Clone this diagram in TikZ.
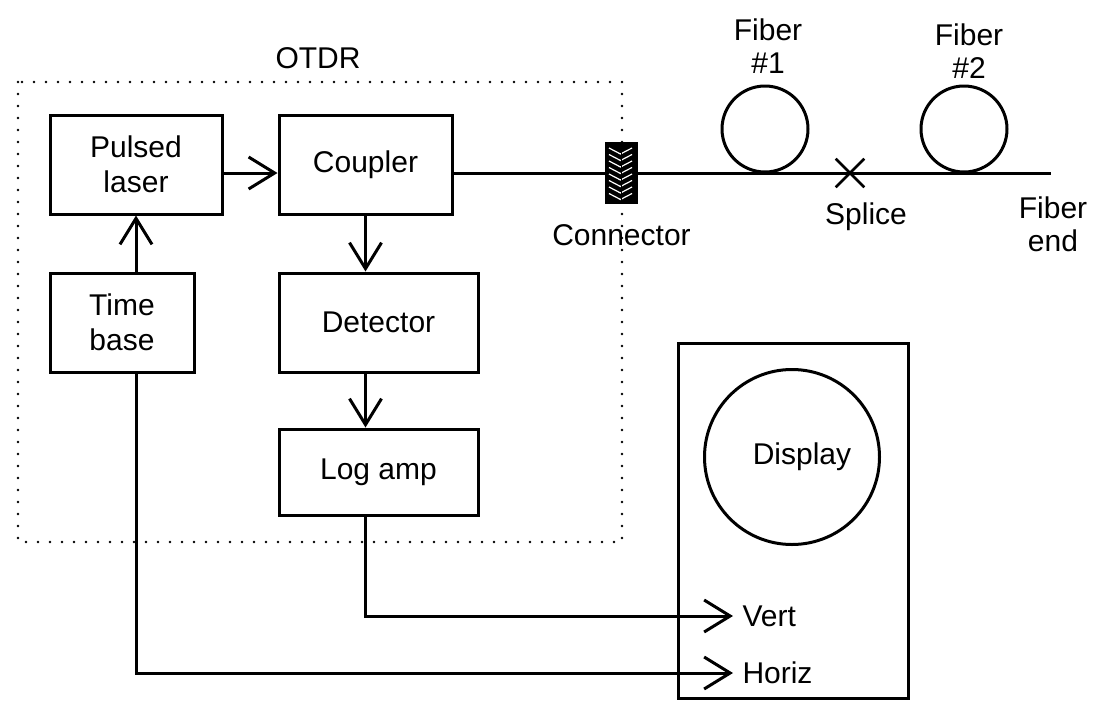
\documentclass[tikz,border=0pt]{standalone}
\usepackage{fontspec}
\setmainfont{Liberation Sans}
\usetikzlibrary{arrows.meta,positioning,shapes.misc,calc}

\begin{document}
\begin{tikzpicture}[
			x=1pt,y=-1pt,
			>={Straight Barb[length=26pt,width=32pt,line width=3pt]},
			line width=3pt,
			blk/.style={
				draw,
				line width=3pt,
				inner sep=0pt,
				minimum height=99pt,
				align=center,
				font=\fontsize{30}{35}\selectfont
			},
			lbl/.style={
				inner sep=0pt,
				align=center,
				font=\fontsize{30}{33}\selectfont
			},
			coil/.style={
				draw,
				circle,
				line width=3pt,
				minimum size=86pt,
				inner sep=0pt
			}
			]
			\useasboundingbox (0,0) rectangle (1101,702);
			% OTDR enclosure
			\draw[line width=2.6pt,line cap=round,dash pattern=on 0pt off 12pt]
				(18,82) rectangle (622,542);
			\node[lbl] (otdr) at (318,58) {OTDR};
			% blocks
			\node[blk,minimum width=172pt] (laser) at (136,164.5) {Pulsed\\laser};
			\node[blk,minimum width=173pt] (coupler) at (365.5,164.5) {Coupler};
			\node[blk,minimum width=144pt] (timebase) at (122,322.5) {Time\\base};
			\node[blk,minimum width=199pt] (detector) at (378.5,322.5) {Detector};
			\node[blk,minimum width=199pt,minimum height=86pt] (logamp) at (378.5,472) {Log amp};
			% connector and fiber
			\node[draw,fill=black,line width=2pt,minimum width=31pt,minimum height=60pt,inner sep=0pt] (conn) at (621.5,173) {};
			\foreach \k in {0,...,7}
				\draw[white,line width=1.2pt]([shift={(4,6+6.5*\k)}]conn.north west) -- ++(11.5,6) -- ++(11.5,-6);
			\draw[black,line width=1.5pt] (conn.north) -- (conn.south);
			\node[lbl,below=19pt of conn] (connlbl) {Connector};
			\node[coil] (fibA) at (765,129) {};
			\node[coil] (fibB) at (964,129) {};
			\node[lbl] (fibAlbl) at (768,46) {Fiber\\\#1};
			\node[lbl] (fibBlbl) at (969,51) {Fiber\\\#2};
			\node[draw,cross out,line width=2.6pt,minimum size=26pt,inner sep=0pt] (splice) at (850,173) {};
			\node[lbl] (splicelbl) at (866,217) {Splice};
			\coordinate (fend) at (1051,173);
			\node[lbl] (fendlbl) at (1053,224) {Fiber\\end};
			\draw (coupler.east |- conn) -- (conn.west);
			\draw (conn.east) -- (fend);
			% display
			\node[draw,line width=3pt,minimum width=230pt,minimum height=355pt,inner sep=0pt] (disp) at (793,520.5) {};
			\node[draw,circle,line width=3pt,minimum size=175pt,inner sep=0pt,font=\fontsize{30}{33}\selectfont] (screen) at (792,457) {\hspace*{20pt}Display};
			\node[lbl,anchor=west,inner xsep=8pt] (vert) at (733,616) {Vert};
			\node[lbl,anchor=west,inner xsep=8pt] (horiz) at (733,673) {Horiz};
			% signal paths
			\draw[->] (laser.east |- conn) -- (coupler.west |- conn);
			\draw[->] (laser.south |- timebase.north) -- (laser.south);
			\draw[->] (coupler.south) -- (coupler.south |- detector.north);
			\draw[->] (coupler.south |- detector.south) -- (coupler.south |- logamp.north);
			\draw[->] (coupler.south |- logamp.south) |- (vert.west);
			\draw[->] (laser.south |- timebase.south) |- (horiz.west);
		\end{tikzpicture}
\end{document}
